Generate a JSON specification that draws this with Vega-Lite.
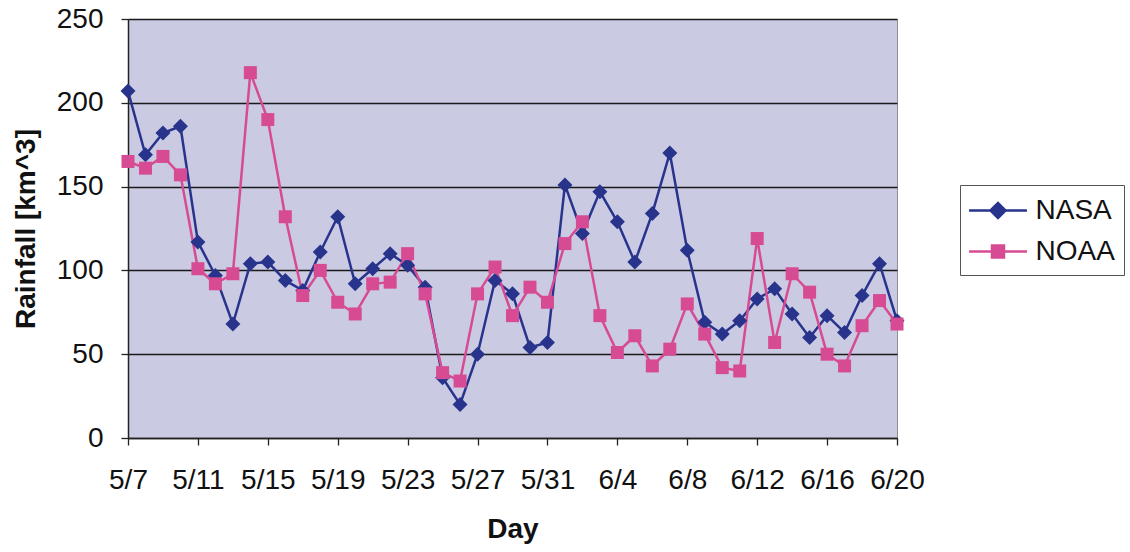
{
  "$schema": "https://vega.github.io/schema/vega-lite/v6.json",
  "width": 769,
  "height": 419,
  "autosize": "none",
  "padding": {"left": 128, "top": 19, "right": 233, "bottom": 114},
  "background": "white",
  "config": {
    "font": "Liberation Sans",
    "view": {"fill": "#cbcae3", "stroke": "#8f8f8f", "strokeWidth": 1}
  },
  "data": {
    "values": [
      {"day": "5/7", "series": "NASA", "rain": 207},
      {"day": "5/8", "series": "NASA", "rain": 169},
      {"day": "5/9", "series": "NASA", "rain": 182},
      {"day": "5/10", "series": "NASA", "rain": 186},
      {"day": "5/11", "series": "NASA", "rain": 117},
      {"day": "5/12", "series": "NASA", "rain": 97},
      {"day": "5/13", "series": "NASA", "rain": 68},
      {"day": "5/14", "series": "NASA", "rain": 104},
      {"day": "5/15", "series": "NASA", "rain": 105},
      {"day": "5/16", "series": "NASA", "rain": 94},
      {"day": "5/17", "series": "NASA", "rain": 88},
      {"day": "5/18", "series": "NASA", "rain": 111},
      {"day": "5/19", "series": "NASA", "rain": 132},
      {"day": "5/20", "series": "NASA", "rain": 92},
      {"day": "5/21", "series": "NASA", "rain": 101},
      {"day": "5/22", "series": "NASA", "rain": 110},
      {"day": "5/23", "series": "NASA", "rain": 103},
      {"day": "5/24", "series": "NASA", "rain": 90},
      {"day": "5/25", "series": "NASA", "rain": 36},
      {"day": "5/26", "series": "NASA", "rain": 20},
      {"day": "5/27", "series": "NASA", "rain": 50},
      {"day": "5/28", "series": "NASA", "rain": 94},
      {"day": "5/29", "series": "NASA", "rain": 86},
      {"day": "5/30", "series": "NASA", "rain": 54},
      {"day": "5/31", "series": "NASA", "rain": 57},
      {"day": "6/1", "series": "NASA", "rain": 151},
      {"day": "6/2", "series": "NASA", "rain": 122},
      {"day": "6/3", "series": "NASA", "rain": 147},
      {"day": "6/4", "series": "NASA", "rain": 129},
      {"day": "6/5", "series": "NASA", "rain": 105},
      {"day": "6/6", "series": "NASA", "rain": 134},
      {"day": "6/7", "series": "NASA", "rain": 170},
      {"day": "6/8", "series": "NASA", "rain": 112},
      {"day": "6/9", "series": "NASA", "rain": 69},
      {"day": "6/10", "series": "NASA", "rain": 62},
      {"day": "6/11", "series": "NASA", "rain": 70},
      {"day": "6/12", "series": "NASA", "rain": 83},
      {"day": "6/13", "series": "NASA", "rain": 89},
      {"day": "6/14", "series": "NASA", "rain": 74},
      {"day": "6/15", "series": "NASA", "rain": 60},
      {"day": "6/16", "series": "NASA", "rain": 73},
      {"day": "6/17", "series": "NASA", "rain": 63},
      {"day": "6/18", "series": "NASA", "rain": 85},
      {"day": "6/19", "series": "NASA", "rain": 104},
      {"day": "6/20", "series": "NASA", "rain": 70},
      {"day": "5/7", "series": "NOAA", "rain": 165},
      {"day": "5/8", "series": "NOAA", "rain": 161},
      {"day": "5/9", "series": "NOAA", "rain": 168},
      {"day": "5/10", "series": "NOAA", "rain": 157},
      {"day": "5/11", "series": "NOAA", "rain": 101},
      {"day": "5/12", "series": "NOAA", "rain": 92},
      {"day": "5/13", "series": "NOAA", "rain": 98},
      {"day": "5/14", "series": "NOAA", "rain": 218},
      {"day": "5/15", "series": "NOAA", "rain": 190},
      {"day": "5/16", "series": "NOAA", "rain": 132},
      {"day": "5/17", "series": "NOAA", "rain": 85},
      {"day": "5/18", "series": "NOAA", "rain": 100},
      {"day": "5/19", "series": "NOAA", "rain": 81},
      {"day": "5/20", "series": "NOAA", "rain": 74},
      {"day": "5/21", "series": "NOAA", "rain": 92},
      {"day": "5/22", "series": "NOAA", "rain": 93},
      {"day": "5/23", "series": "NOAA", "rain": 110},
      {"day": "5/24", "series": "NOAA", "rain": 86},
      {"day": "5/25", "series": "NOAA", "rain": 39},
      {"day": "5/26", "series": "NOAA", "rain": 34},
      {"day": "5/27", "series": "NOAA", "rain": 86},
      {"day": "5/28", "series": "NOAA", "rain": 102},
      {"day": "5/29", "series": "NOAA", "rain": 73},
      {"day": "5/30", "series": "NOAA", "rain": 90},
      {"day": "5/31", "series": "NOAA", "rain": 81},
      {"day": "6/1", "series": "NOAA", "rain": 116},
      {"day": "6/2", "series": "NOAA", "rain": 129},
      {"day": "6/3", "series": "NOAA", "rain": 73},
      {"day": "6/4", "series": "NOAA", "rain": 51},
      {"day": "6/5", "series": "NOAA", "rain": 61},
      {"day": "6/6", "series": "NOAA", "rain": 43},
      {"day": "6/7", "series": "NOAA", "rain": 53},
      {"day": "6/8", "series": "NOAA", "rain": 80},
      {"day": "6/9", "series": "NOAA", "rain": 62},
      {"day": "6/10", "series": "NOAA", "rain": 42},
      {"day": "6/11", "series": "NOAA", "rain": 40},
      {"day": "6/12", "series": "NOAA", "rain": 119},
      {"day": "6/13", "series": "NOAA", "rain": 57},
      {"day": "6/14", "series": "NOAA", "rain": 98},
      {"day": "6/15", "series": "NOAA", "rain": 87},
      {"day": "6/16", "series": "NOAA", "rain": 50},
      {"day": "6/17", "series": "NOAA", "rain": 43},
      {"day": "6/18", "series": "NOAA", "rain": 67},
      {"day": "6/19", "series": "NOAA", "rain": 82},
      {"day": "6/20", "series": "NOAA", "rain": 68}
    ]
  },
  "encoding": {
    "x": {
      "field": "day",
      "type": "ordinal",
      "sort": null,
      "scale": {"type": "point", "padding": 0},
      "axis": {
        "title": "Day",
        "values": ["5/7", "5/11", "5/15", "5/19", "5/23", "5/27", "5/31", "6/4", "6/8", "6/12", "6/16", "6/20"],
        "labelAngle": 0,
        "labelOverlap": false,
        "labelBound": false,
        "labelFontSize": 28,
        "labelColor": "#111111",
        "labelPadding": 21,
        "tickSize": 7,
        "tickColor": "#222222",
        "tickWidth": 1.3,
        "domainColor": "#222222",
        "domainWidth": 1.5,
        "grid": false,
        "titleFontSize": 28,
        "titleFontWeight": "bold",
        "titleColor": "#111111",
        "titlePadding": 21
      }
    },
    "y": {
      "field": "rain",
      "type": "quantitative",
      "scale": {"domain": [0, 250], "nice": false},
      "axis": {
        "title": "Rainfall [km^3]",
        "values": [0, 50, 100, 150, 200, 250],
        "labelFontSize": 28,
        "labelColor": "#111111",
        "labelPadding": 18,
        "tickSize": 7,
        "tickColor": "#222222",
        "tickWidth": 1.3,
        "domainColor": "#222222",
        "domainWidth": 1.5,
        "grid": true,
        "gridColor": "#1a1a1a",
        "gridWidth": 1.3,
        "titleFontSize": 28,
        "titleFontWeight": "bold",
        "titleColor": "#111111",
        "titlePadding": 16
      }
    },
    "color": {
      "field": "series",
      "type": "nominal",
      "scale": {"domain": ["NASA", "NOAA"], "range": ["#28348c", "#d64b93"]},
      "legend": {
        "title": null,
        "orient": "none",
        "legendX": 832,
        "legendY": 166,
        "labelFontSize": 28,
        "labelColor": "#111111",
        "symbolSize": 900,
        "symbolStrokeWidth": 2.5,
        "symbolOffset": 12.5,
        "labelOffset": 21,
        "rowPadding": 10,
        "padding": 9,
        "strokeColor": "#555555",
        "fillColor": "white",
        "encode": {
          "symbols": {
            "update": {
              "shape": {"signal": "datum.value === 'NASA' ? 'M-1.93,0H1.93M-0.5,0L0,-0.5L0.5,0L0,0.5Z' : 'M-1.93,0H1.93M-0.4,-0.4H0.4V0.4H-0.4Z'"},
              "fill": {"scale": "color", "field": "value"},
              "stroke": {"scale": "color", "field": "value"},
              "strokeWidth": {"value": 2.5},
              "size": {"value": 900},
              "opacity": {"value": 1}
            }
          }
        }
      }
    }
  },
  "layer": [
    {"mark": {"type": "line", "strokeWidth": 2.5}},
    {
      "transform": [{"filter": "datum.series === 'NASA'"}],
      "mark": {"type": "point", "shape": "diamond", "filled": true, "opacity": 1, "size": 225}
    },
    {
      "transform": [{"filter": "datum.series === 'NOAA'"}],
      "mark": {"type": "point", "shape": "square", "filled": true, "opacity": 1, "size": 169}
    }
  ]
}
